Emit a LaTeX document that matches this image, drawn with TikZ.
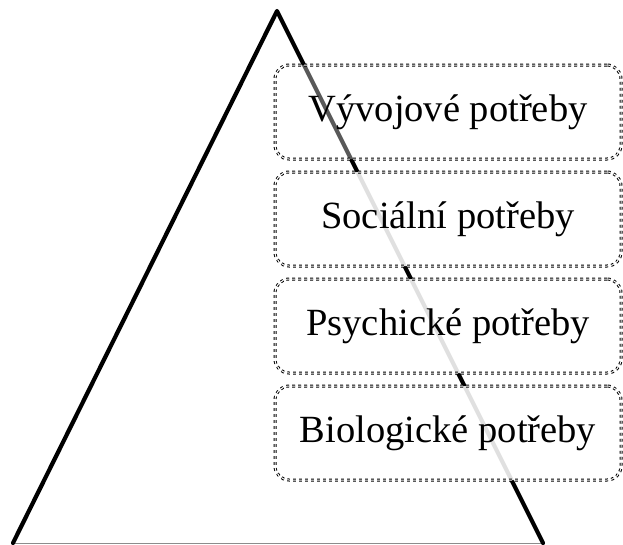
\documentclass[tikz,border=0pt]{standalone}
\usepackage{fontspec}
\setmainfont{Liberation Serif}
\usetikzlibrary{positioning}
\tikzset{%
   side/.style={
      line width=4.2pt,
      line cap=round,
      line join=round,
      draw=black
   },
   base/.style={
      line width=1pt,
      draw=black!45
   },
   needbox/.style={
      draw,
      rectangle,
      rounded corners=14pt,
      double,
      double distance=1pt,
      line width=1pt,
      dash pattern=on 2.8pt off 3.2pt,
      fill=white,
      fill opacity=0.88,
      text opacity=1,
      minimum width=346pt,
      minimum height=94pt,
      inner sep=0pt,
      font=\fontsize{38.5}{42}\selectfont
   },
}

\begin{document}
\begin{tikzpicture}[x=1pt, y=-1pt]
   \useasboundingbox (0,0) rectangle (623,544);
   \coordinate (top) at (277,11);
   \coordinate (left) at (13,543);
   \coordinate (right) at (543,543);
   \draw[base] (left) -- (right);
   \draw[side] (left) -- (top) -- (right);
   \node[needbox, fill opacity=0.35] (dev) at (448,112) {Vývojové potřeby};
   \node[needbox, below=12pt of dev] (soc) {Sociální potřeby};
   \node[needbox, below=12pt of soc] (psy) {Psychické potřeby};
   \node[needbox, below=12pt of psy] (bio) {Biologické potřeby};
\end{tikzpicture}
\end{document}
